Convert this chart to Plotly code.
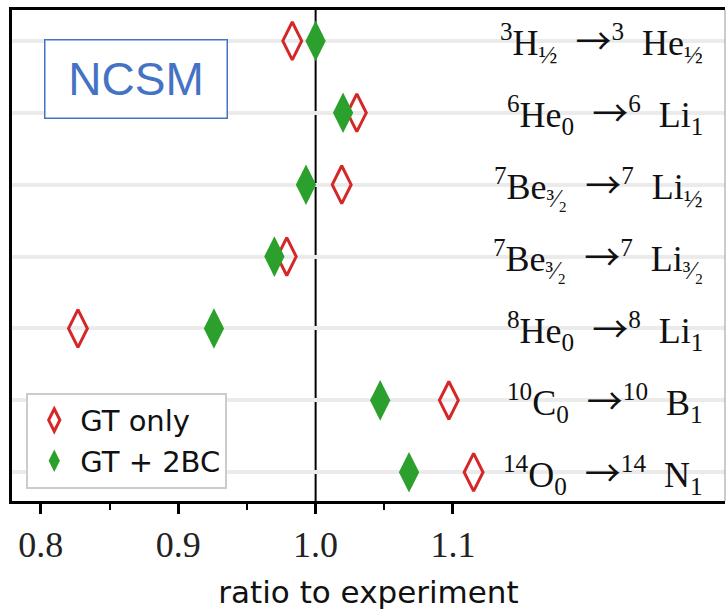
import plotly.graph_objects as go

# ---- data ----
transitions = ["3H-3He", "6He-6Li", "7Be-7Li(1/2)", "7Be-7Li(3/2)", "8He-8Li", "10C-10B", "14O-14N"]
AR = "\u2002<span style='font-family:Noto Sans CJK JP'>→</span>"
SP = "\u2002"
labels = [
    "<sup>3</sup>H<sub>½</sub>" + AR + "<sup>3</sup>" + SP + "He<sub>½</sub>",
    "<sup>6</sup>He<sub>0</sub>" + AR + "<sup>6</sup>" + SP + "Li<sub>1</sub>",
    "<sup>7</sup>Be<sub>³⁄₂</sub>" + AR + "<sup>7</sup>" + SP + "Li<sub>½</sub>",
    "<sup>7</sup>Be<sub>³⁄₂</sub>" + AR + "<sup>7</sup>" + SP + "Li<sub>³⁄₂</sub>",
    "<sup>8</sup>He<sub>0</sub>" + AR + "<sup>8</sup>" + SP + "Li<sub>1</sub>",
    "<sup>10</sup>C<sub>0</sub>" + AR + "<sup>10</sup>" + SP + "B<sub>1</sub>",
    "<sup>14</sup>O<sub>0</sub>" + AR + "<sup>14</sup>" + SP + "N<sub>1</sub>",
]
gt_only = [0.983, 1.030, 1.019, 0.979, 0.827, 1.097, 1.115]
gt_2bc = [1.000, 1.020, 0.993, 0.970, 0.926, 1.047, 1.068]
tick_vals = [0.8, 0.9, 1.0, 1.1]
tick_text = ["0.8", "0.9", "1.0", "1.1"]
minor_vals = [0.85, 0.95, 1.05]

fig = go.Figure()
fig.add_trace(go.Scatter(
    x=gt_only, y=transitions, mode="markers", name="GT only",
    marker=dict(symbol="diamond-tall-open", size=27, color="#d62728",
                line=dict(width=3, color="#d62728")),
))
fig.add_trace(go.Scatter(
    x=gt_2bc, y=transitions, mode="markers", name="GT + 2BC",
    marker=dict(symbol="diamond-tall", size=29, color="#2ca02c",
                line=dict(width=0)),
))

for t, lab in zip(transitions, labels):
    fig.add_annotation(x=0.972, xref="paper", y=t, yref="y", text=lab,
                       xanchor="right", yanchor="middle", showarrow=False,
                       font=dict(family="Liberation Serif", size=36, color="#111"))

fig.add_annotation(x=0.174, y=0.86, xref="paper", yref="paper", text="NCSM",
                   showarrow=False, xanchor="center", yanchor="middle",
                   width=181, height=77, borderpad=0,
                   bordercolor="#4472C4", borderwidth=1.5, bgcolor="white",
                   font=dict(family="Liberation Sans", size=46, color="#4472C4"))

fig.add_vline(x=1.0, line_color="black", line_width=2, layer="below")
fig.add_shape(type="line", xref="paper", yref="paper", x0=1, x1=1, y0=0, y1=1,
              line=dict(color="#999999", width=1))

fig.update_layout(
    width=727, height=610,
    margin=dict(l=12, r=2, t=10, b=109),
    plot_bgcolor="white", paper_bgcolor="white",
    showlegend=True,
    legend=dict(x=0.02, y=0.025, xanchor="left", yanchor="bottom",
                bgcolor="white", bordercolor="#cccccc", borderwidth=2,
                itemwidth=42,
                font=dict(family="DejaVu Sans", size=29, color="#111")),
)
fig.update_xaxes(
    range=[0.779, 1.298], tickvals=tick_vals, ticktext=tick_text,
    ticks="outside", ticklen=10, tickwidth=3, tickcolor="black",
    minor=dict(tickvals=minor_vals, ticks="outside", ticklen=6, tickwidth=2,
               tickcolor="black", showgrid=False),
    showline=True, linecolor="black", linewidth=3, mirror=True,
    showgrid=False, zeroline=False,
    tickfont=dict(family="Liberation Serif", size=36, color="#222"),
    title=dict(text="ratio to experiment", standoff=18,
               font=dict(family="DejaVu Sans", size=31, color="#111")),
)
fig.update_yaxes(
    type="category", categoryorder="array", categoryarray=transitions,
    range=[6.4, -0.43], showticklabels=False, ticks="",
    showgrid=True, gridcolor="#ebebeb", gridwidth=4,
    showline=True, linecolor="black", linewidth=3, zeroline=False,
)

fig.write_html("out.html")
